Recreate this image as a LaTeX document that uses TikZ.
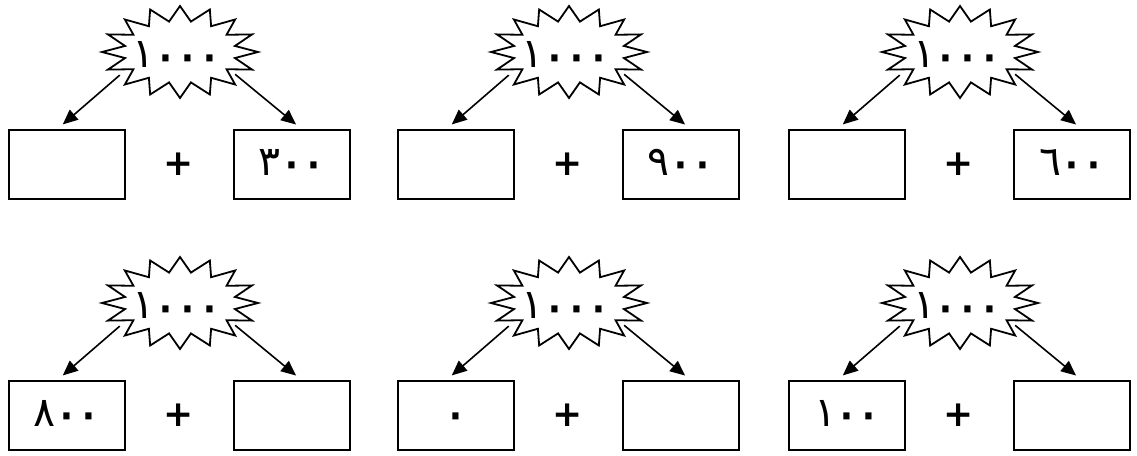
\documentclass[tikz,border=0pt]{standalone}
\usepackage{graphicx}
\usepackage{fontspec}
\setmainfont{DejaVu Sans}
\newfontfamily\arabicfont[Script=Arabic]{DejaVu Sans}
\usetikzlibrary{arrows.meta,shapes.geometric}
\newcommand\dg[1]{\makebox[22pt]{#1}}
\newcommand\zr{\makebox[22pt]{\raisebox{-6.5pt}{\scalebox{1.4}{٠}}}}
\tikzset{
  numbox/.style={draw, line width=2pt, minimum width=116pt, minimum height=69pt, inner sep=0pt,
    text height=21pt, text depth=0pt, font=\arabicfont\fontsize{41}{41}\selectfont},
  hub/.style={ellipse, minimum width=138pt, minimum height=82pt, inner sep=0pt,
    text height=31pt, text depth=0pt, font=\arabicfont\fontsize{41}{41}\selectfont},
  plussign/.style={inner sep=0pt, font=\bfseries\fontsize{36}{36}\selectfont},
  link/.style={line width=1.6pt, -{Triangle[length=15pt,width=13pt]}, shorten >=7pt},
  burst/.style={line width=1.8pt, line join=miter}
}
\newcommand\sumgroup[6]{%
  \begin{scope}[shift={(#1,#2)}]
    \draw[burst] plot[samples at={0,1,...,31}, variable=\i]
      ({172+(78-22*mod(\i,2))*cos(90+11.25*\i)}, {-77+(46-15*mod(\i,2))*sin(90+11.25*\i)}) -- cycle;
    \node[hub] (h#6) at (169,-77) {#3};
    \node[numbox] (l#6) at (59,35.5) {#4};
    \node[numbox] (r#6) at (284,35.5) {#5};
    \node[plussign] (p#6) at (171,35) {+};
    \draw[link] (h#6.202) -- (l#6.105);
    \draw[link] (h#6.-21) -- (r#6.75);
  \end{scope}}
\begin{document}
\begin{tikzpicture}[x=1pt,y=-1pt]
  \useasboundingbox (0,0) rectangle (1137,455);
  \sumgroup{8}{129}{\dg{١}\zr\zr\zr}{}{\dg{٣}\zr\zr}{a}
  \sumgroup{397}{129}{\dg{١}\zr\zr\zr}{}{\dg{٩}\zr\zr}{b}
  \sumgroup{788}{129}{\dg{١}\zr\zr\zr}{}{\dg{٦}\zr\zr}{c}
  \sumgroup{8}{380}{\dg{١}\zr\zr\zr}{\dg{٨}\zr\zr}{}{d}
  \sumgroup{397}{380}{\dg{١}\zr\zr\zr}{\zr}{}{e}
  \sumgroup{788}{380}{\dg{١}\zr\zr\zr}{\dg{١}\zr\zr}{}{f}
\end{tikzpicture}
\end{document}
